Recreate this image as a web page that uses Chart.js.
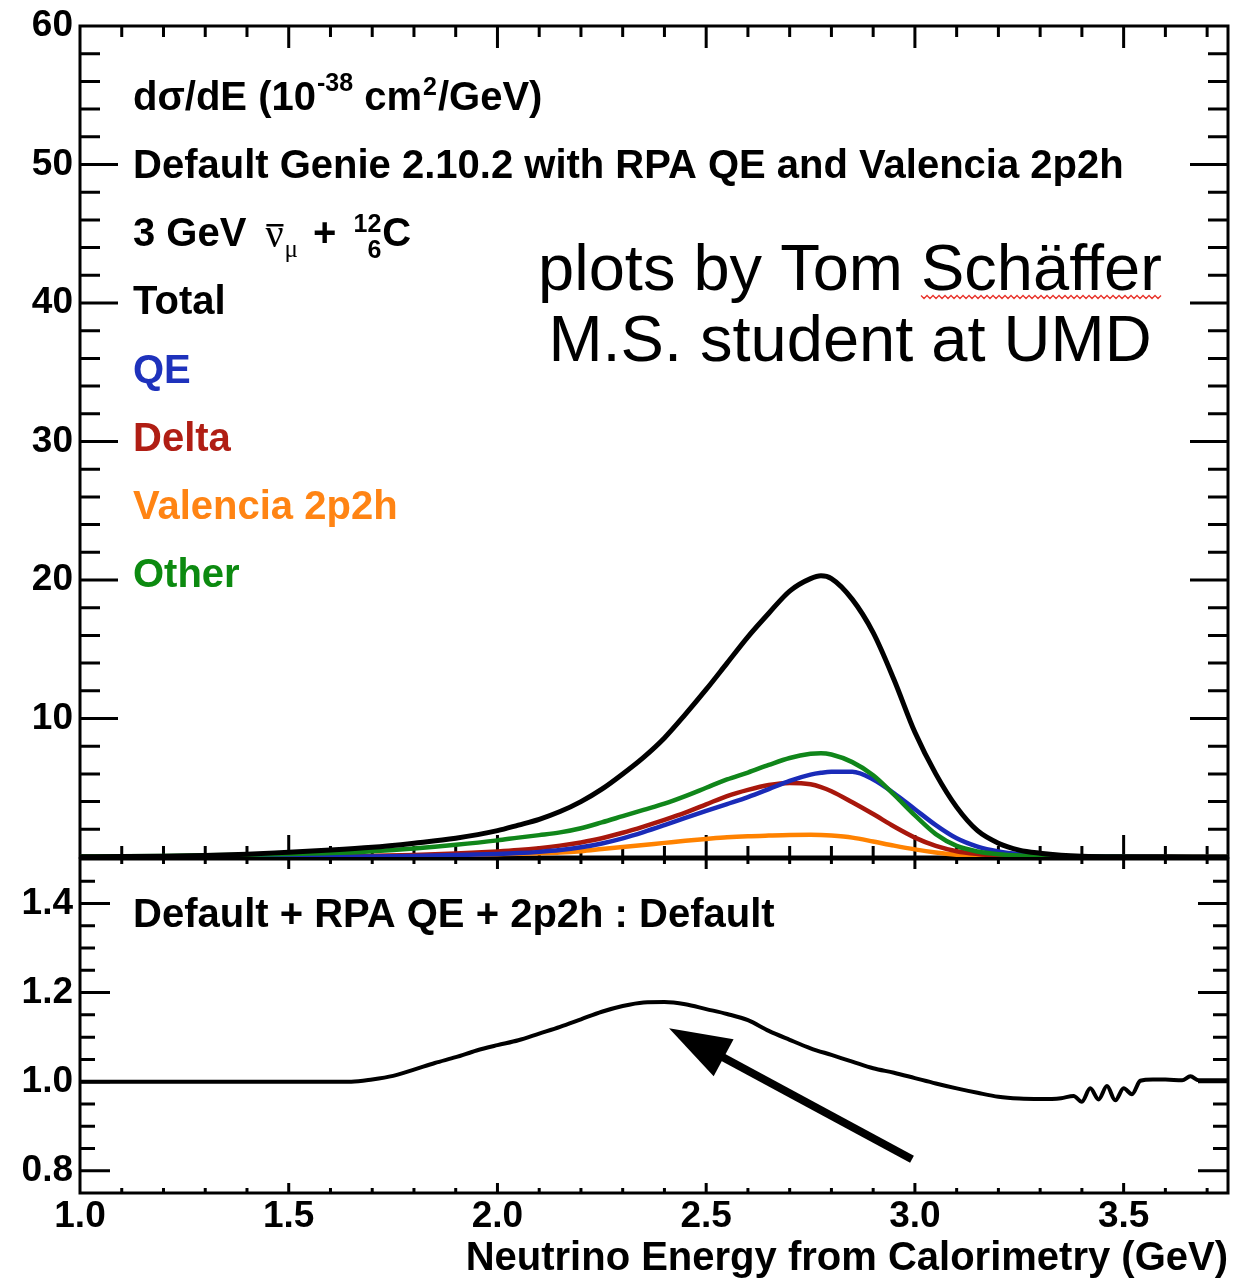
<!DOCTYPE html>
<html><head><meta charset="utf-8">
<script src="https://cdn.jsdelivr.net/npm/chart.js@4.4.0/dist/chart.umd.min.js"></script>
<style>
html,body{margin:0;padding:0;background:#fff;}
#wrap{position:relative;width:1253px;height:1279px;overflow:hidden;background:#fff;}
canvas{position:absolute;left:0;}
</style></head><body>
<div id="wrap">
<canvas id="top" width="1253" height="880" style="top:0px"></canvas>
<canvas id="bot" width="1253" height="439" style="top:840px"></canvas>
</div>
<script>
// ---------- data ----------
const energy = [1.0,1.1,1.2,1.3,1.4,1.5,1.6,1.7,1.8,1.9,2.0,
  2.05,2.1,2.15,2.2,2.25,2.3,2.35,2.4,2.45,2.5,2.55,2.6,2.65,2.7,2.75,
  2.775,
  2.8,2.85,2.9,2.95,3.0,3.05,3.1,3.15,3.2,3.25,3.3,3.35,3.4,
  3.5,3.6,3.75];
const total = [0.02,0.03,0.05,0.1,0.2,0.35,0.5,0.7,1.0,1.35,1.9,
  2.3,2.72,3.28,4.0,4.9,6.0,7.2,8.6,10.3,12.1,14.0,15.9,17.6,19.2,20.1,
  20.3,
  20.1,18.6,16.2,12.8,9.0,6.0,3.6,1.9,1.0,0.5,0.27,0.13,0.06,
  0.02,0.01,0.0];
const qe = [0,0,0,0,0.005,0.01,0.02,0.04,0.08,0.14,0.22,
  0.28,0.37,0.5,0.7,0.98,1.35,1.8,2.3,2.82,3.33,3.82,4.32,4.9,5.5,5.95,
  6.08,
  6.15,6.15,5.6,4.6,3.45,2.3,1.35,0.75,0.4,0.2,0.1,0.05,0.03,
  0.01,0,0];
const delta = [0,0,0,0.005,0.01,0.02,0.04,0.08,0.14,0.25,0.4,
  0.5,0.64,0.82,1.05,1.35,1.75,2.2,2.68,3.2,3.8,4.4,4.85,5.2,5.35,5.25,
  5.05,
  4.75,3.95,3.1,2.2,1.4,0.8,0.42,0.22,0.1,0.05,0.02,0.01,0,
  0,0,0];
const valencia = [0,0,0,0,0,0.005,0.02,0.05,0.09,0.14,0.2,
  0.23,0.27,0.32,0.42,0.57,0.72,0.87,1.02,1.17,1.3,1.42,1.5,1.55,1.59,1.6,
  1.59,
  1.55,1.4,1.12,0.82,0.55,0.33,0.17,0.07,0.03,0.01,0,0,0,
  0,0,0];
const other = [0.03,0.05,0.08,0.12,0.17,0.22,0.28,0.42,0.62,0.88,1.2,
  1.4,1.58,1.78,2.08,2.5,2.95,3.4,3.85,4.4,5.0,5.6,6.1,6.65,7.15,7.45,
  7.5,
  7.4,6.85,5.9,4.5,3.0,1.65,0.8,0.4,0.2,0.1,0.05,0.03,0.02,
  0.01,0,0];
const ratioEnergy = [1.0,1.6,1.65,1.7,1.75,1.8,1.85,1.9,1.95,2.0,2.05,2.1,2.15,2.2,2.25,2.3,2.35,2.4,2.45,2.5,
  2.55,2.6,2.65,2.7,2.75,2.8,2.85,2.9,2.95,3.0,3.05,3.1,3.15,3.2,3.25,3.3,3.35,
  3.38,3.4,3.42,3.44,3.46,3.48,3.5,3.52,3.54,3.57,3.6,3.64,3.66,3.68,3.75];
const ratio = [1.0,1.0,1.0,1.005,1.013,1.027,1.042,1.055,1.07,1.082,1.093,1.108,1.123,1.14,1.157,1.17,1.178,1.179,1.174,1.163,
  1.152,1.138,1.114,1.094,1.075,1.06,1.045,1.03,1.02,1.008,0.996,0.985,0.975,0.966,0.962,0.961,0.963,
  0.968,0.955,0.985,0.96,0.99,0.958,0.985,0.972,1.002,1.005,1.005,1.003,1.012,1.003,1.003];
const seriesNames = ['Total','QE','Delta','Valencia 2p2h','Other'];
const xTickValues = [1.0,1.5,2.0,2.5,3.0,3.5];
const xTickLabels = ['1.0','1.5','2.0','2.5','3.0','3.5'];
const topYTicks = [10,20,30,40,50,60];
const botYTicks = [0.8,1.0,1.2,1.4];
const botYLabels = ['0.8','1.0','1.2','1.4'];
const arrowFrom = {x:2.993, y:0.826};
const arrowTo = {x:2.411, y:1.12};

// ---------- styles ----------
const FONT = "'Liberation Sans', Arial, Helvetica, sans-serif";
const SERIF = "'Liberation Serif', 'Times New Roman', serif";
const B = s => `bold ${s}px ${FONT}`;
const COLORS = {Total:'#000000', QE:'#1a2bb8', Delta:'#a8170c', 'Valencia 2p2h':'#ff8200', Other:'#10861a'};
const TEXTCOLORS = {Total:'#000000', QE:'#1e32bc', Delta:'#b01e14', 'Valencia 2p2h':'#ff8414', Other:'#0c8a10'};

function mk(name, xs, ys, width) {
  return {label:name, data: xs.map((e,i)=>({x:e, y:ys[i]})), borderColor:COLORS[name] || '#000',
    backgroundColor:'transparent', borderWidth:width, pointRadius:0, pointHoverRadius:0,
    cubicInterpolationMode:'monotone', fill:false};
}

const near = (v, step) => Math.abs(v/step - Math.round(v/step)) < 1e-6;

const frameTicks = {
  id:'frameTicks',
  beforeDatasetsDraw(chart, args, o) {
    const {ctx, chartArea:a, scales:{x, y}} = chart;
    ctx.save();
    ctx.strokeStyle = '#000'; ctx.lineWidth = o.lw; ctx.lineCap = 'butt';
    ctx.beginPath();
    const nx = Math.round((x.max - x.min)/o.xMinor);
    for (let i = 1; i <= nx; i++) {
      const v = x.min + i*o.xMinor;
      if (v >= x.max - 1e-9) break;
      const px = x.getPixelForValue(v);
      const len = near(v, o.xMajor) ? o.xLen[0] : o.xLen[1];
      ctx.moveTo(px, a.bottom); ctx.lineTo(px, a.bottom - len);
      ctx.moveTo(px, a.top); ctx.lineTo(px, a.top + len);
    }
    const ny = Math.round((y.max - y.min)/o.yMinor);
    for (let i = 1; i < ny; i++) {
      const v = y.min + i*o.yMinor;
      const py = y.getPixelForValue(v);
      const len = near(v, o.yMajor) ? o.yLen[0] : o.yLen[1];
      ctx.moveTo(a.left, py); ctx.lineTo(a.left + len, py);
      ctx.moveTo(a.right, py); ctx.lineTo(a.right - len, py);
    }
    ctx.stroke();
    ctx.strokeRect(a.left, a.top, a.right - a.left, a.bottom - a.top);
    ctx.restore();
  }
};

function put(ctx, t, x, y, font, color) {
  ctx.font = font; ctx.fillStyle = color || '#000';
  ctx.fillText(t, x, y);
  return x + ctx.measureText(t).width;
}

const topText = {
  id:'topText',
  afterDraw(chart) {
    const ctx = chart.ctx;
    ctx.save(); ctx.textAlign = 'left'; ctx.textBaseline = 'alphabetic';
    const L = 133;
    let x = put(ctx, 'dσ/dE (10', L, 110, B(40));
    x = put(ctx, '-38', x + 1, 91, B(25));
    x = put(ctx, ' cm', x, 110, B(40));
    x = put(ctx, '2', x + 1, 95, B(25));
    put(ctx, '/GeV)', x + 1, 110, B(40));
    put(ctx, 'Default Genie 2.10.2 with RPA QE and Valencia 2p2h', L, 178, B(40));
    x = put(ctx, '3 GeV', L, 246, B(40));
    x += 19;
    const nuX = x;
    x = put(ctx, 'ν', x, 247, `40px ${SERIF}`);
    ctx.fillRect(nuX + 1, 224, x - nuX - 1, 2.5);
    x = put(ctx, 'μ', x + 1, 257, `25px ${SERIF}`);
    x = put(ctx, ' + ', x + 4, 246, B(40));
    ctx.font = B(25);
    const w12 = ctx.measureText('12').width, w6 = ctx.measureText('6').width;
    x += 6;
    ctx.fillText('12', x, 232);
    ctx.fillText('6', x + w12 - w6, 258);
    x += w12 + 1;
    put(ctx, 'C', x, 246, B(40));
    const baselines = [314, 383, 451, 519, 587];
    seriesNames.forEach((n, i) => put(ctx, n, L, baselines[i], B(40), TEXTCOLORS[n]));
    // slide annotation
    ctx.font = `65px ${FONT}`; ctx.fillStyle = '#000'; ctx.textAlign = 'left';
    const l1 = 'plots by Tom Schäffer', l2 = 'M.S. student at UMD';
    const w1 = ctx.measureText(l1).width, w2 = ctx.measureText(l2).width;
    const cx = 850;
    ctx.fillText(l1, cx - w1/2, 290);
    ctx.fillText(l2, cx - w2/2, 361);
    const us = cx - w1/2 + ctx.measureText('plots by Tom ').width;
    const ue = cx - w1/2 + w1;
    ctx.strokeStyle = '#e8322a'; ctx.lineWidth = 1.3;
    ctx.beginPath();
    let k = 0;
    for (let px = us; px <= ue; px += 3, k++) {
      const py = 297 + (k % 2 ? 1.5 : -1.5);
      if (k === 0) ctx.moveTo(px, py); else ctx.lineTo(px, py);
    }
    ctx.stroke();
    ctx.restore();
  }
};

const botText = {
  id:'botText',
  afterDraw(chart) {
    const ctx = chart.ctx;
    const {x: xs, y: ys} = chart.scales;
    ctx.save(); ctx.textAlign = 'left'; ctx.textBaseline = 'alphabetic';
    put(ctx, 'Default + RPA QE + 2p2h : Default', 133, 87, B(40));
    const x0 = xs.getPixelForValue(arrowFrom.x), y0 = ys.getPixelForValue(arrowFrom.y);
    const x1 = xs.getPixelForValue(arrowTo.x), y1 = ys.getPixelForValue(arrowTo.y);
    const ang = Math.atan2(y1 - y0, x1 - x0), hl = 62, hw = 21;
    const bx = x1 - hl*Math.cos(ang), by = y1 - hl*Math.sin(ang);
    ctx.strokeStyle = '#000'; ctx.fillStyle = '#000'; ctx.lineWidth = 8;
    ctx.beginPath(); ctx.moveTo(x0, y0); ctx.lineTo(bx + 4*Math.cos(ang), by + 4*Math.sin(ang)); ctx.stroke();
    ctx.beginPath(); ctx.moveTo(x1, y1);
    ctx.lineTo(bx + hw*Math.sin(ang), by - hw*Math.cos(ang));
    ctx.lineTo(bx - hw*Math.sin(ang), by + hw*Math.cos(ang));
    ctx.closePath(); ctx.fill();
    ctx.restore();
  }
};

const tickFont = {family:FONT, size:37, weight:'bold', lineHeight:0.5};

new Chart(document.getElementById('top'), {
  type:'line',
  data:{datasets:[
    mk('Total', energy, total, 5),
    mk('Other', energy, other, 4.5),
    mk('QE', energy, qe, 4.5),
    mk('Delta', energy, delta, 4.5),
    mk('Valencia 2p2h', energy, valencia, 4.5)
  ]},
  options:{
    responsive:false, animation:false, devicePixelRatio:1,
    layout:{padding:{left:0, right:25, top:26, bottom:23}},
    plugins:{legend:{display:false}, tooltip:{enabled:false},
      frameTicks:{xMinor:0.1, xMajor:0.5, yMinor:2, yMajor:10, xLen:[22,11], yLen:[38,20], lw:3}},
    scales:{
      x:{type:'linear', min:1, max:3.75, display:false},
      y:{type:'linear', min:0, max:60,
        afterBuildTicks:s=>{ s.ticks = topYTicks.map(v=>({value:v})); },
        afterFit:s=>{ s.width = 80; },
        grid:{display:false, drawTicks:false}, border:{display:false},
        ticks:{padding:7, color:'#000', font:tickFont, callback:v=>String(v)}}
    }
  },
  plugins:[frameTicks, topText]
});

new Chart(document.getElementById('bot'), {
  type:'line',
  data:{datasets:[ mk('ratio', ratioEnergy, ratio, 4) ]},
  options:{
    responsive:false, animation:false, devicePixelRatio:1,
    layout:{padding:{left:0, right:25, top:19, bottom:0}},
    plugins:{legend:{display:false}, tooltip:{enabled:false},
      frameTicks:{xMinor:0.1, xMajor:0.5, yMinor:0.05, yMajor:0.2, xLen:[10,5], yLen:[30,15], lw:3}},
    scales:{
      x:{type:'linear', min:1, max:3.75,
        afterBuildTicks:s=>{ s.ticks = xTickValues.map(v=>({value:v})); },
        afterFit:s=>{ s.height = 86; },
        grid:{display:false, drawTicks:false}, border:{display:false},
        ticks:{autoSkip:false, maxRotation:0, padding:2, color:'#000', font:{family:FONT, size:37, weight:'bold'},
          callback:(v,i)=>xTickLabels[i]},
        title:{display:true, text:'Neutrino Energy from Calorimetry (GeV)', align:'end', color:'#000',
          font:{family:FONT, size:40, weight:'bold'}, padding:{top:0, bottom:-4}}},
      y:{type:'linear', min:0.75, max:1.5,
        afterBuildTicks:s=>{ s.ticks = botYTicks.map(v=>({value:v})); },
        afterFit:s=>{ s.width = 80; },
        grid:{display:false, drawTicks:false}, border:{display:false},
        ticks:{padding:7, color:'#000', font:tickFont, callback:(v,i)=>botYLabels[i]}}
    }
  },
  plugins:[frameTicks, botText]
});
</script>
</body></html>
